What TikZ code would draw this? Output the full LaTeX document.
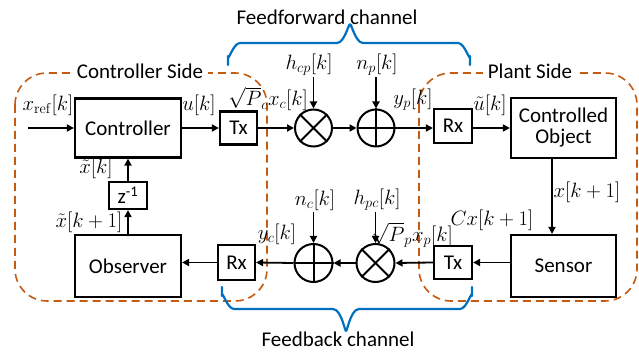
\documentclass[tikz,border=0pt]{standalone}
\usepackage[no-math]{fontspec}
\setmainfont{Carlito}
\usetikzlibrary{arrows.meta}
\definecolor{dorange}{RGB}{197,90,17}
\definecolor{mblue}{RGB}{0,112,192}
\newcommand\diagfont{\fontsize{21}{24}\selectfont}
\newcommand\mathlblfont{\fontsize{20}{24}\selectfont}
\begin{document}
\begin{tikzpicture}[x=1pt,y=-1pt,
  blk/.style={draw, line width=2.2pt, fill=white, inner sep=0pt, font=\diagfont, align=center},
  sumc/.style={circle, draw, line width=2pt, fill=white, minimum size=37pt, inner sep=0pt},
  arr/.style={-{Triangle[length=7pt,width=7pt]}, line width=1.8pt},
  lbl/.style={inner sep=0pt, font=\mathlblfont},
  region/.style={draw=dorange, line width=1.6pt, dash pattern=on 8pt off 5pt, rounded corners=32pt},
  rtitle/.style={fill=white, inner xsep=5pt, inner ysep=1pt, font=\diagfont},
  brace/.style={draw=mblue, line width=2.2pt, line cap=round, line join=round}]
\useasboundingbox (0,0) rectangle (639,352);

% regions
\draw[region] (15,73) rectangle (267,301);
\draw[region] (419,73) rectangle (637,301);
\node[rtitle] (ctitle) at (140,71) {Controller Side};
\node[rtitle] (ptitle) at (530,71) {Plant Side};

% braces
\draw[brace] (228,65) -- (228,56) to[out=-90,in=180] (240,43) -- (337,43) to[out=0,in=90] (350,26)
  to[out=90,in=180] (363,43) -- (458,43) to[out=0,in=-90] (470,56) -- (470,65);
\node[inner sep=0pt, font=\diagfont] (fftitle) at (327,17) {Feedforward channel};
\draw[brace] (222,287) -- (222,296) to[out=90,in=180] (234,309) -- (333,309) to[out=0,in=-90] (346,329)
  to[out=-90,in=180] (359,309) -- (460,309) to[out=0,in=90] (472,296) -- (472,287);
\node[inner sep=0pt, font=\diagfont] (fbtitle) at (338,339) {Feedback channel};

% blocks
\node[blk, minimum width=106pt, minimum height=59pt] (ctrl) at (128,128) {Controller};
\node[blk, minimum width=37pt, minimum height=33pt] (txT) at (238.5,128) {Tx};
\node[sumc] (mulT) at (313.5,128) {};
\node[sumc] (addT) at (376,128) {};
\node[blk, minimum width=38pt, minimum height=34pt] (rxT) at (453,126) {Rx};
\node[blk, minimum width=105pt, minimum height=60pt] (obj) at (563.5,128) {Controlled\\[-3pt]Object};
\node[blk, minimum width=105pt, minimum height=62pt] (sensor) at (563.5,266) {Sensor};
\node[blk, minimum width=38pt, minimum height=33pt] (txB) at (453,262.5) {Tx};
\node[sumc, minimum size=38pt] (mulB) at (375.5,263) {};
\node[sumc, minimum size=38pt] (addB) at (313.5,263) {};
\node[blk, minimum width=37pt, minimum height=35pt] (rxB) at (236.5,262.5) {Rx};
\node[blk, minimum width=106pt, minimum height=62pt] (obs) at (128,266) {Observer};
\node[blk, minimum width=38pt, minimum height=27pt] (zinv) at (128,195.5) {z\textsuperscript{-1}};

% circle symbols
\foreach \c in {mulT,mulB} {
  \draw[line width=2pt] (\c.north west) -- (\c.south east);
  \draw[line width=2pt] (\c.north east) -- (\c.south west);
}
\foreach \c in {addT,addB} {
  \draw[line width=2pt] (\c.north) -- (\c.south);
  \draw[line width=2pt] (\c.west) -- (\c.east);
}

% coordinates for free ends
\coordinate (xin) at (28,128);
\coordinate (hcpin) at (313.5,77);
\coordinate (npin) at (376,77);
\coordinate (hpcin) at (375.5,212);
\coordinate (ncin) at (313.5,212);

% top row connectors
\draw[arr] (xin) -- (ctrl.west);
\draw[arr] (ctrl.east) -- (txT.west);
\draw[arr] (txT.east) -- (mulT.west);
\draw[arr] (mulT.east) -- (addT.west);
\draw[arr] (addT.east) -- (rxT.west |- addT);
\draw[arr] (rxT.east |- addT) -- (obj.west |- addT);
\draw[arr] (hcpin) -- (mulT.north);
\draw[arr] (npin) -- (addT.north);

% plant vertical
\draw[arr] ([xshift=-11.5pt]obj.south) -- ([xshift=-11.5pt]sensor.north);

% bottom row connectors
\draw[arr] (sensor.west |- txB) -- (txB.east);
\draw[arr] (txB.west) -- (mulB.east);
\draw[arr] (mulB.west) -- (addB.east);
\draw[arr] (addB.west) -- (rxB.east);
\draw[arr] (rxB.west) -- (obs.east |- rxB);
\draw[arr] (hpcin) -- (mulB.north);
\draw[arr] (ncin) -- (addB.north);

% observer loop
\draw[arr] (obs.north) -- (zinv.south);
\draw[arr] (zinv.north) -- (ctrl.south);

% labels
\node[lbl] (lxref) at (48,105) {$x_{\mathrm{ref}}[k]$};
\node[lbl] (lu) at (199,105) {$u[k]$};
\node[lbl] (lpc) at (268,99) {$\sqrt{P}_c x_c[k]$};
\node[lbl] (lhcp) at (309,65) {$h_{cp}[k]$};
\node[lbl] (lnp) at (377,65) {$n_p[k]$};
\node[lbl] (lyp) at (413,100) {$y_p[k]$};
\node[lbl] (lut) at (490,105) {$\tilde{u}[k]$};
\node[lbl] (lxk1) at (587,192) {$x[k+1]$};
\node[lbl] (lcx) at (492,220) {$Cx[k+1]$};
\node[lbl] (lpp) at (412,235) {$\sqrt{P}_p x_p[k]$};
\node[lbl] (lhpc) at (377,200) {$h_{pc}[k]$};
\node[lbl] (lnc) at (315,200) {$n_c[k]$};
\node[lbl] (lyc) at (277,234) {$y_c[k]$};
\node[lbl] (lxt1) at (89,222) {$\tilde{x}[k+1]$};
\node[lbl] (lxt) at (96,168) {$\tilde{x}[k]$};
\end{tikzpicture}
\end{document}
